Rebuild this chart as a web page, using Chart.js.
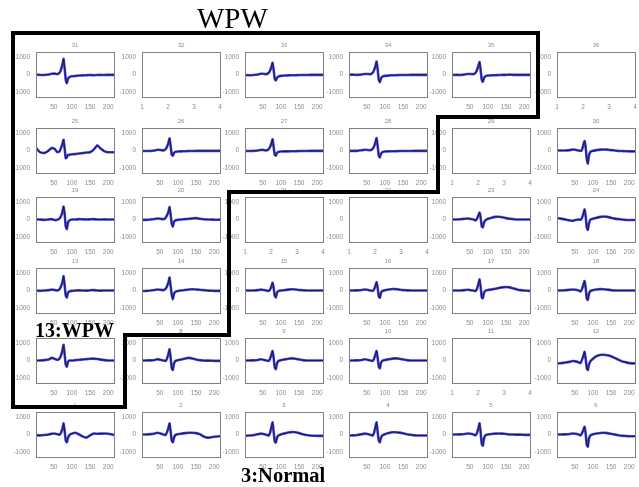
<!DOCTYPE html>
<html>
<head>
<meta charset="utf-8">
<script src="https://cdn.jsdelivr.net/npm/chart.js@4.4.1/dist/chart.umd.min.js"></script>
<style>
  body { margin: 0; background: #fff; width: 639px; height: 487px; overflow: hidden; position: relative; }
  canvas { position: absolute; }
  #frame { position: absolute; left: 0; top: 0; z-index: 5; pointer-events: none; }
</style>
</head>
<body>

<svg id="frame" width="639" height="487">
  <polygon points="13,33 538,33 538,117 438,117 438,192 229,192 229,335 125,335 125,407 13,407"
           fill="none" stroke="#000" stroke-width="4" stroke-linejoin="miter"/>
  <text x="197" y="28" font-family="Liberation Serif" font-size="29" fill="#000">WPW</text>
  <text x="35" y="337" font-family="Liberation Serif" font-size="20" font-weight="bold" fill="#000">13:WPW</text>
  <text x="241" y="482" font-family="Liberation Serif" font-size="20.5" font-weight="bold" fill="#000">3:Normal</text>
</svg>

<script>
// sample positions along each beat (shared by every trace)
const sampleX = [1, 12, 24, 36, 44, 52, 60, 66, 70, 74, 77, 80, 83, 86, 89, 93, 100, 110, 120, 130, 140, 150, 160, 170, 180, 190, 200, 216]

// panel numbers, top row first
const cellGrid = [
    [31, 32, 33, 34, 35, 36],
    [25, 26, 27, 28, 29, 30],
    [19, 20, 21, 22, 23, 24],
    [13, 14, 15, 16, 17, 18],
    [7, 8, 9, 10, 11, 12],
    [1, 2, 3, 4, 5, 6]
]
const emptyCells = [32, 36, 29, 21, 22, 11]

const signalXTicks = [50, 100, 150, 200]
const emptyXTicks = [1, 2, 3, 4]
const yTicks = [-1000, 0, 1000]

// averaged beats
const ecg31 = [0, -20, -30, 0, 40, 50, 20, 100, 280, 600, 900, 350, -300, -500, -250, -150, -100, -80, -60, -50, -40, -30, -40, -30, -20, -30, -20, -20]
const ecg33 = [-30, -40, -30, 0, 40, 40, 20, 90, 220, 450, 680, 250, -250, -350, -200, -120, -80, -60, -50, -40, -40, -30, -30, -30, -20, -20, -20, -20]
const ecg34 = [0, -10, -20, 0, 30, 30, 20, 100, 250, 500, 750, 300, -300, -450, -250, -120, -80, -60, -40, -40, -30, -30, -30, -20, -20, -20, -20, -20]
const ecg35 = [-30, -20, -30, 0, 30, 30, 20, 100, 260, 520, 720, 250, -300, -420, -220, -100, -60, -40, -40, -30, -20, -20, -10, -20, -20, -20, -20, -20]

const ecg25 = [150, -100, -150, 0, 150, 100, -100, -50, 150, 400, 620, 100, -450, -400, -250, -250, -220, -200, -170, -150, -120, -100, 50, 300, 100, -50, -100, -100]
const ecg26 = [-20, -30, -30, 0, 40, 30, 0, 80, 220, 450, 700, 250, -250, -300, -150, -80, -60, -50, -40, -30, -30, -20, -20, -20, -20, -20, -20, -20]
const ecg27 = [-30, -30, -20, 0, 30, 30, 0, 70, 200, 420, 650, 200, -250, -300, -150, -80, -60, -50, -50, -40, -40, -30, -30, -30, -20, -20, -20, -20]
const ecg28 = [-20, -20, -20, 10, 40, 30, 10, 90, 230, 480, 720, 250, -300, -400, -200, -100, -60, -50, -40, -40, -30, -30, -30, -30, -20, -20, -20, -20]
const ecg30 = [0, 0, 0, 20, 60, 40, 0, -30, 50, 350, 550, 200, -500, -750, -300, -80, -20, 20, 50, 60, 50, 20, 0, -20, -30, -40, -50, -50]

const ecg19 = [0, 0, -20, 0, 20, -30, -20, 60, 200, 450, 750, 300, -400, -550, -200, -50, 0, 0, 20, 10, 0, 10, 20, 0, 0, 10, 0, 0]
const ecg20 = [-20, -20, 0, 30, 60, 40, 20, 100, 250, 450, 720, 250, -250, -400, -150, -50, -20, 0, 20, 40, 60, 80, 40, 10, 0, 0, -10, -10]
const ecg23 = [0, 0, 10, 40, 60, 30, 0, -50, 50, 250, 400, 100, -400, -450, -200, -50, 40, 100, 150, 160, 130, 80, 40, 20, 0, 0, 0, 0]
const ecg24 = [80, 50, 0, -50, -80, -30, 0, -20, 100, 350, 580, 200, -450, -600, -250, 0, 50, 100, 150, 170, 150, 100, 50, 20, 0, -20, -30, -30]

const ecg13 = [0, -20, 0, 20, 50, 30, 0, 80, 250, 500, 830, 300, -300, -400, -150, -50, -20, 0, 10, 0, -10, 10, 20, 0, -10, 0, 0, 0]
const ecg14 = [-30, -20, 0, 30, 60, 40, 20, 90, 250, 480, 750, 250, -250, -500, -200, -80, -30, 0, 30, 60, 70, 60, 40, 20, 0, -10, -20, -20]
const ecg15 = [0, 0, 0, 20, 50, 30, 0, -30, 50, 250, 450, 150, -300, -400, -150, -30, 0, 20, 50, 70, 60, 30, 10, 0, 0, 0, 0, 0]
const ecg16 = [0, 0, 10, 30, 60, 40, 0, -30, 60, 280, 480, 150, -350, -420, -150, -30, 20, 60, 90, 80, 50, 20, 10, 0, 0, 0, 0, 0]
const ecg17 = [0, 0, 0, 20, 40, 20, 0, -30, 100, 400, 640, 200, -400, -450, -150, -20, 30, 60, 100, 150, 180, 200, 180, 120, 60, 20, 0, -20]
const ecg18 = [0, 0, 10, 40, 60, 40, 0, -50, 80, 350, 550, 150, -450, -550, -200, -30, 20, 60, 80, 70, 50, 20, 0, 0, 0, 0, 0, 0]

const ecg7 = [0, 0, 20, 60, 150, 100, 30, 120, 300, 600, 900, 350, -250, -350, -100, 0, 0, 20, 40, 60, 80, 100, 110, 90, 50, 20, 0, 0]
const ecg8 = [0, 0, 10, 30, 80, 40, 0, -30, 120, 400, 650, 150, -450, -550, -200, -30, 20, 60, 120, 150, 120, 60, 20, 0, -10, -10, -20, -20]
const ecg9 = [0, 0, 10, 30, 70, 40, 0, -30, 100, 350, 550, 150, -400, -500, -200, -30, 20, 60, 100, 120, 100, 60, 20, 0, 0, 0, 0, 0]
const ecg10 = [0, 0, 10, 30, 70, 40, 0, -30, 100, 350, 550, 150, -350, -450, -150, -20, 30, 70, 110, 120, 100, 60, 20, 0, 0, 0, 0, 0]
const ecg12 = [-170, -150, -120, -80, -30, -50, -100, -150, 50, 300, 500, 100, -450, -550, -250, -50, 100, 250, 320, 330, 300, 250, 150, 50, -50, -100, -150, -170]

const ecg1 = [-50, -50, -30, 0, 40, 60, 20, -20, 100, 350, 640, 200, -350, -450, -200, -30, 50, 100, 0, -120, -180, -50, 60, 40, 50, 60, 40, -30]
const ecg2 = [0, 0, 20, 60, 100, 60, 0, -30, 150, 400, 640, 150, -350, -450, -200, -30, 20, 50, 80, 100, 100, 80, 20, -100, -180, -170, -130, -100]
const ecg3 = [-80, -60, -40, 20, 50, 30, -20, -60, 100, 450, 700, 150, -400, -470, -200, -60, 0, 60, 120, 140, 130, 80, 20, -30, -60, -70, -80, -80]
const ecg4 = [-60, -50, -30, 20, 50, 30, -20, -60, 100, 450, 700, 150, -350, -450, -200, -50, 20, 80, 130, 130, 110, 70, 20, -20, -50, -60, -60, -60]
const ecg5 = [0, 0, 10, 30, 60, 40, 0, -50, 100, 400, 650, 100, -550, -650, -250, -50, 0, 30, 50, 60, 50, 30, 0, 0, -10, -10, -20, -20]
const ecg6 = [0, 0, 10, 30, 60, 40, 0, -50, 80, 280, 450, 50, -600, -700, -250, -50, 20, 60, 90, 100, 80, 40, 0, -40, -70, -90, -100, -100]

const traces = {
    1: ecg1, 2: ecg2, 3: ecg3, 4: ecg4, 5: ecg5, 6: ecg6,
    7: ecg7, 8: ecg8, 9: ecg9, 10: ecg10, 12: ecg12,
    13: ecg13, 14: ecg14, 15: ecg15, 16: ecg16, 17: ecg17, 18: ecg18,
    19: ecg19, 20: ecg20, 23: ecg23, 24: ecg24,
    25: ecg25, 26: ecg26, 27: ecg27, 28: ecg28, 30: ecg30,
    31: ecg31, 33: ecg33, 34: ecg34, 35: ecg35
}

// where each plot box sits on the page
const colLeft = [36, 142, 245, 349, 452, 557]
const rowTop = [52, 128, 197, 268, 338, 412]
const boxW = 78

const tickFont = { family: 'Liberation Sans', size: 6.5 }
const tickColor = '#8c8c8c'

// matlab style box round the plot area
const boxBorder = {
    id: 'boxBorder',
    afterDraw(chart) {
        const { ctx, chartArea: a } = chart
        ctx.save()
        ctx.strokeStyle = '#808080'
        ctx.lineWidth = 1
        ctx.strokeRect(Math.round(a.left) + 0.5, Math.round(a.top) + 0.5, Math.round(a.width), Math.round(a.height))
        ctx.restore()
    }
}

cellGrid.forEach((row, r) => {
    row.forEach((num, c) => {
        const cv = document.createElement('canvas')
        cv.width = 30 + boxW + 2
        cv.height = 73
        cv.style.left = (colLeft[c] - 30) + 'px'
        cv.style.top = (rowTop[r] - 13) + 'px'
        document.body.appendChild(cv)

        const empty = emptyCells.includes(num)
        const ys = traces[num]
        const pts = empty ? [] : sampleX.map((x, i) => ({ x: x, y: ys[i] }))
        const xTicks = empty ? emptyXTicks : signalXTicks

        new Chart(cv, {
            type: 'line',
            data: {
                datasets: empty ? [] : [
                    { data: pts, borderColor: '#1d1d4e', borderWidth: 1.1, pointRadius: 0, tension: 0.1 },
                    { data: pts, borderColor: '#4242ea', borderWidth: 2.6, pointRadius: 0, tension: 0.1 }
                ]
            },
            options: {
                responsive: false,
                animation: false,
                devicePixelRatio: 1,
                layout: { padding: { top: 0, right: 2, bottom: 0, left: 0 } },
                plugins: {
                    legend: { display: false },
                    tooltip: { enabled: false },
                    title: {
                        display: true,
                        text: String(num),
                        fullSize: false,
                        color: tickColor,
                        font: { family: 'Liberation Sans', size: 6, weight: 'normal' },
                        padding: { top: 2.5, bottom: 3.3 }
                    }
                },
                scales: {
                    x: {
                        type: 'linear',
                        min: 1,
                        max: empty ? 4 : 216,
                        grid: { display: false, drawTicks: false },
                        border: { display: false },
                        ticks: { font: tickFont, color: tickColor, padding: 6, maxRotation: 0, autoSkip: false },
                        afterBuildTicks: s => { s.ticks = xTicks.map(v => ({ value: v })) },
                        afterFit: s => { s.height = 15; s.paddingLeft = 0; s.paddingRight = 0 }
                    },
                    y: {
                        min: -1300,
                        max: 1300,
                        grid: { display: false, drawTicks: false },
                        border: { display: false },
                        ticks: { font: tickFont, color: tickColor, padding: 6, callback: v => String(v) },
                        afterBuildTicks: s => { s.ticks = yTicks.map(v => ({ value: v })) },
                        afterFit: s => { s.width = 30; s.paddingTop = 0; s.paddingBottom = 0 }
                    }
                }
            },
            plugins: [boxBorder]
        })
    })
})
</script>
</body>
</html>
